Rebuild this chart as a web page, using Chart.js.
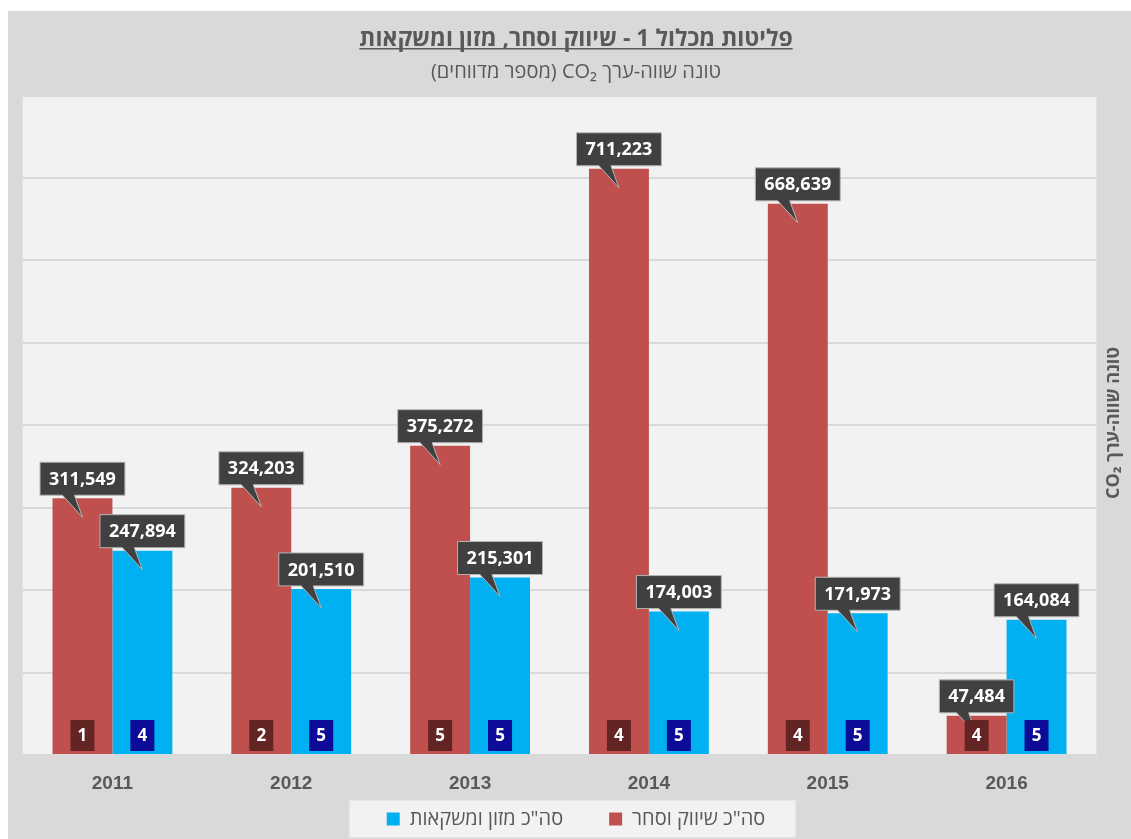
<!DOCTYPE html>
<html><head><meta charset="utf-8">
<script src="https://cdn.jsdelivr.net/npm/chart.js@4.4.1/dist/chart.umd.min.js"></script>
<style>
html,body{margin:0;padding:0;background:#fff;overflow:hidden;width:1131px;height:839px}
#wrap{position:absolute;left:8px;top:11px;width:1123px;height:828px;background:#d9d9d9}
</style></head><body>
<div id="wrap"><canvas id="c" dir="rtl"></canvas></div>
<script>
const years = ['2011','2012','2013','2014','2015','2016'];
const tradeValues = [311549, 324203, 375272, 711223, 668639, 47484];
const foodValues = [247894, 201510, 215301, 174003, 171973, 164084];
const tradeReporters = [1, 2, 5, 4, 4, 4];
const foodReporters = [4, 5, 5, 5, 5, 5];
const seriesNames = ['סה"כ שיווק וסחר', 'סה"כ מזון ומשקאות'];
const titleText = 'פליטות מכלול 1 - שיווק וסחר, מזון ומשקאות';
const subtitleText = 'טונה שווה-ערך CO₂ (מספר מדווחים)';
const yAxisTitle = 'טונה שווה-ערך CO₂';
const yMin = 0, yMax = 800000, yStep = 100000;

const barColors = ['#c0504d', '#00b0f0'];
const countColors = ['#632523', '#0c0c99'];
const reporters = [tradeReporters, foodReporters];
const TXT = '#595959';
const FONT = '"Open Sans", "Liberation Sans", sans-serif';

const decor = {
  id: 'decor',
  beforeDraw(chart) {
    const {ctx, chartArea: a} = chart;
    ctx.save();
    ctx.fillStyle = '#f2f2f2';
    ctx.fillRect(a.left, a.top, a.right - a.left, a.bottom - a.top);
    ctx.strokeStyle = '#e2e2e2'; ctx.lineWidth = 1;
    ctx.strokeRect(a.left - 0.5, a.top - 0.5, a.right - a.left + 1, a.bottom - a.top + 1);
    const lg = chart.legend;
    if (lg && lg.legendHitBoxes && lg.legendHitBoxes.length) {
      let l = Infinity, r = -Infinity, t = Infinity, b = -Infinity;
      lg.legendHitBoxes.forEach(h => {
        l = Math.min(l, h.left); r = Math.max(r, h.left + h.width);
        t = Math.min(t, h.top); b = Math.max(b, h.top + h.height);
      });
      ctx.fillStyle = '#f2f2f2';
      ctx.fillRect(l - 37, t - 8, r - l + 67, b - t + 16);
      ctx.strokeStyle = '#e6e6e6';
      ctx.strokeRect(l - 37.5, t - 8.5, r - l + 68, b - t + 17);
    }
    ctx.restore();
  },
  afterDatasetsDraw(chart) {
    const ctx = chart.ctx;
    ctx.save();
    ctx.direction = 'ltr';
    ctx.textAlign = 'center';
    ctx.textBaseline = 'middle';
    ctx.font = 'bold 18px ' + FONT;
    [0, 1].forEach(di => {
      const meta = chart.getDatasetMeta(di);
      meta.data.forEach((bar, i) => {
        const v = chart.data.datasets[di].data[i];
        const txt = v.toLocaleString('en-US');
        const tw = ctx.measureText(txt).width;
        const w = tw + 18, h = 33;
        const cx = bar.x, bx = cx - w / 2, bb = bar.y - 3, bt = bb - h;
        ctx.beginPath();
        ctx.moveTo(bx, bt); ctx.lineTo(bx + w, bt); ctx.lineTo(bx + w, bb);
        ctx.lineTo(cx - 8, bb); ctx.lineTo(cx, bar.y + 19); ctx.lineTo(cx - 20, bb);
        ctx.lineTo(bx, bb); ctx.closePath();
        ctx.fillStyle = '#404040'; ctx.fill();
        ctx.strokeStyle = '#b4b4b4'; ctx.lineWidth = 1; ctx.stroke();
        ctx.fillStyle = '#ffffff';
        ctx.fillText(txt, cx, bt + h / 2 + 1);
      });
    });
    ctx.font = 'bold 17px ' + FONT;
    [0, 1].forEach(di => {
      const meta = chart.getDatasetMeta(di);
      meta.data.forEach((bar, i) => {
        const cx = bar.x, bottom = bar.base - 3;
        ctx.fillStyle = countColors[di];
        ctx.fillRect(cx - 12, bottom - 31, 24, 31);
        ctx.fillStyle = '#ffffff';
        ctx.fillText(String(reporters[di][i]), cx, bottom - 15);
      });
    });
    ctx.restore();
  },
  afterDraw(chart) {
    const ctx = chart.ctx;
    ctx.save();
    ctx.font = 'bold 23px ' + FONT;
    ctx.direction = 'rtl';
    const tw = ctx.measureText(titleText).width;
    const tb = chart.titleBlock;
    const cx = (tb.left + tb.right) / 2;
    const cy = tb.top + 15 + 13.8 + 9;
    ctx.strokeStyle = TXT; ctx.lineWidth = 1.5;
    ctx.beginPath(); ctx.moveTo(cx - tw / 2, cy); ctx.lineTo(cx + tw / 2, cy); ctx.stroke();
    ctx.translate(1106, 412);
    ctx.rotate(-Math.PI / 2);
    ctx.font = 'bold 18px ' + FONT;
    ctx.fillStyle = TXT;
    ctx.textAlign = 'center';
    ctx.textBaseline = 'middle';
    ctx.fillText(yAxisTitle, 0, 0);
    ctx.restore();
  }
};

new Chart(document.getElementById('c'), {
  type: 'bar',
  data: {
    labels: years,
    datasets: [
      {label: seriesNames[0], data: tradeValues, backgroundColor: barColors[0]},
      {label: seriesNames[1], data: foodValues, backgroundColor: barColors[1]}
    ]
  },
  options: {
    responsive: true,
    maintainAspectRatio: false,
    devicePixelRatio: 1,
    animation: false,
    events: [],
    layout: {padding: {left: 15, right: 2, top: 0, bottom: 0}},
    datasets: {bar: {barPercentage: 1, categoryPercentage: 0.67}},
    scales: {
      x: {
        grid: {display: false, drawTicks: false},
        border: {display: false},
        ticks: {color: TXT, font: {family: '"Liberation Sans", Arial, sans-serif', size: 19, weight: 'bold'}, padding: 17},
        afterFit(s) { s.height = 38; }
      },
      y: {
        position: 'right',
        min: yMin, max: yMax,
        ticks: {display: false, stepSize: yStep},
        grid: {color: '#d9d9d9', lineWidth: 2, drawTicks: false},
        border: {display: false},
        afterFit(s) { s.width = 33; }
      }
    },
    plugins: {
      tooltip: {enabled: false},
      title: {
        display: true, text: titleText, color: TXT,
        font: {family: FONT, size: 23, weight: 'bold'},
        padding: {top: 15, bottom: 7}
      },
      subtitle: {
        display: true, text: subtitleText, color: TXT,
        font: {family: FONT, size: 20, weight: 'normal'},
        padding: {top: 0, bottom: 11}
      },
      legend: {
        position: 'bottom',
        reverse: true,
        labels: {
          color: TXT, font: {family: FONT, size: 20},
          boxWidth: 13, boxHeight: 13, padding: 16,
          generateLabels(chart) {
            const items = Chart.defaults.plugins.legend.labels.generateLabels(chart);
            items.forEach(it => { if (it.datasetIndex === 1) it.text = '\u2002\u2002\u2002' + it.text; });
            return items;
          }
        }
      }
    }
  },
  plugins: [decor]
});
</script>
</body></html>
